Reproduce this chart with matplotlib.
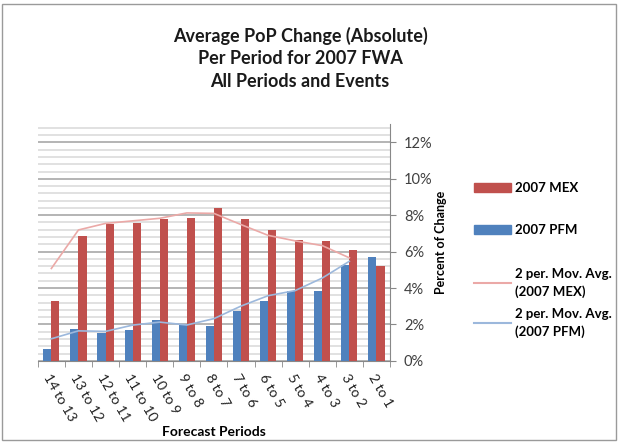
import numpy as np
import matplotlib.pyplot as plt
from matplotlib.patches import Rectangle, Patch
from matplotlib.lines import Line2D
from matplotlib.ticker import MultipleLocator, FuncFormatter

periods = ['14 to 13', '13 to 12', '12 to 11', '11 to 10', '10 to 9', '9 to 8',
           '8 to 7', '7 to 6', '6 to 5', '5 to 4', '4 to 3', '3 to 2', '2 to 1']
pfm = [0.68, 1.75, 1.55, 1.69, 2.24, 2.02, 1.92, 2.72, 3.30, 3.86, 3.86, 5.24, 5.70]
mex = [3.30, 6.85, 7.53, 7.57, 7.81, 7.85, 8.40, 7.80, 7.17, 6.62, 6.56, 6.10, 5.22]

RED = '#C0504D'
BLUE = '#4F81BD'
RED_MA = '#EBA9A7'
BLUE_MA = '#9CB8DC'

plt.rcParams['font.family'] = ['Lato', 'DejaVu Sans']

fig = plt.figure(figsize=(6.2, 4.45), dpi=100)
fig.patches.append(Rectangle((0.004, 0.012), 0.99, 0.98, transform=fig.transFigure,
                             fill=False, edgecolor='#9a9a9a', linewidth=1.0))

ax = fig.add_axes([0.061, 0.189, 0.568, 0.532])

x = np.arange(len(periods))
w = 0.3
ax.bar(x - w / 2, pfm, width=w, color=BLUE, zorder=3)
ax.bar(x + w / 2, mex, width=w, color=RED, zorder=3)

# 2 period moving averages (trend lines)
mex_a = np.array(mex)
pfm_a = np.array(pfm)
ax.plot(x[:-1], (mex_a[:-1] + mex_a[1:]) / 2, color=RED_MA, lw=1.2, zorder=4)
ax.plot(x[:-1], (pfm_a[:-1] + pfm_a[1:]) / 2, color=BLUE_MA, lw=1.2, zorder=4)

ax.set_xlim(-0.5, len(periods) - 0.5)
ax.set_ylim(0, 13)
ax.yaxis.tick_right()
ax.yaxis.set_label_position('right')
ax.yaxis.set_major_locator(MultipleLocator(2))
ax.yaxis.set_minor_locator(MultipleLocator(0.4))
ax.yaxis.set_major_formatter(FuncFormatter(lambda v, p: '%d%%' % v if v <= 12 else ''))
ax.grid(True, which='minor', axis='y', color='#dcdcdc', lw=1.2, zorder=0)
ax.grid(True, which='major', axis='y', color='#a8a8a8', lw=1.2, zorder=0)
ax.tick_params(axis='y', which='minor', length=0)
ax.tick_params(axis='y', which='major', length=4, color='#888888', labelsize=10.5,
               labelcolor='#404040', pad=6)

ax.set_xticks(x)
ax.set_xticklabels(periods, rotation=-60, ha='left', va='top', rotation_mode='anchor',
                   fontsize=10, color='#202020')
ax.set_xticks(np.arange(-0.5, len(periods)), minor=True)
ax.tick_params(axis='x', which='major', length=0, pad=8)
ax.tick_params(axis='x', which='minor', length=4, color='#888888')

for s in ['top', 'left']:
    ax.spines[s].set_visible(False)
ax.spines['bottom'].set_color('#888888')
ax.spines['right'].set_color('#888888')

ax.set_xlabel('Forecast Periods', fontsize=10, fontweight='bold', labelpad=0)
ax.set_ylabel('Percent of Change', fontsize=9, fontweight='bold', labelpad=2)
ax.xaxis.set_label_coords(0.5, -0.275)

fig.text(0.484, 0.94, 'Average PoP Change (Absolute)\nPer Period for 2007 FWA\nAll Periods and Events',
         ha='center', va='top', fontsize=13, fontweight='bold', linespacing=1.4, color='#1a1a1a')

# legend: bars spaced widely, moving averages below
prop = {'weight': 'bold', 'size': 9.5}
leg1 = fig.legend([Patch(color=RED), Patch(color=BLUE)], ['2007 MEX', '2007 PFM'],
                  loc='upper left', bbox_to_anchor=(0.745, 0.618), frameon=False,
                  handlelength=2.8, handletextpad=0.3, labelspacing=2.3, prop=prop)
leg2 = fig.legend([Line2D([], [], color=RED_MA, lw=1.5), Line2D([], [], color=BLUE_MA, lw=1.5)],
                  ['2 per. Mov. Avg.\n(2007 MEX)', '2 per. Mov. Avg.\n(2007 PFM)'],
                  loc='upper left', bbox_to_anchor=(0.745, 0.424), frameon=False,
                  handlelength=2.8, handletextpad=0.3, labelspacing=0.8, prop=prop)
for t in leg2.get_texts():
    t.set_linespacing(1.45)

fig.savefig('out.png', dpi=100)
